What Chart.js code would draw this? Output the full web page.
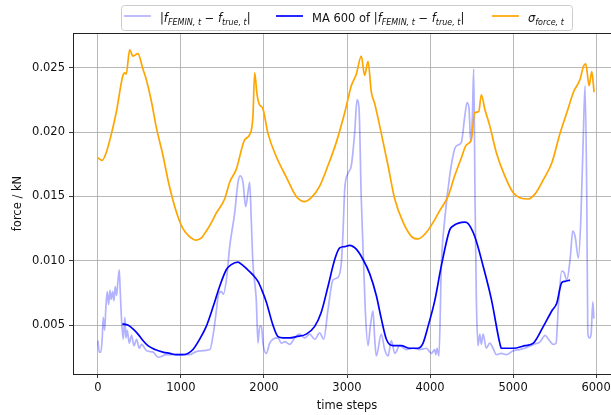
<!DOCTYPE html>
<html>
<head>
<meta charset="utf-8">
<script src="https://cdn.jsdelivr.net/npm/chart.js@4"></script>
<style>
    html, body { margin: 0; padding: 0; background: #fff; overflow: hidden; }
    #wrap { width: 611px; height: 415px; overflow: hidden; }
    canvas { display: block; }
</style>
</head>
<body>
<div id="wrap"><canvas id="chart" width="640" height="415"></canvas></div>
<script>
// |f_FEMIN - f_true| (raw)
const rawT = [0, 16, 36, 52, 64, 81, 96, 112, 129, 145, 160, 177, 193, 208, 225, 241, 257, 269, 286, 305,
    325, 337, 353, 377, 406, 434, 466, 498, 527, 587, 666, 726, 828, 988, 1108, 1169, 1229, 1349, 1389, 1430,
    1449, 1486, 1510, 1551, 1587, 1647, 1687, 1714, 1747, 1780, 1807, 1828, 1847, 1867, 1907, 1928, 1948, 1970, 1988, 2028,
    2069, 2108, 2169, 2208, 2253, 2310, 2370, 2430, 2490, 2551, 2611, 2671, 2719, 2771, 2831, 2892, 2931, 2952, 2972, 3012,
    3052, 3093, 3120, 3145, 3172, 3201, 3220, 3253, 3281, 3313, 3334, 3353, 3413, 3454, 3494, 3534, 3575, 3635, 3714, 3795,
    3876, 3955, 4016, 4057, 4069, 4084, 4108, 4136, 4177, 4237, 4297, 4337, 4377, 4418, 4446, 4470, 4490, 4510, 4526, 4542,
    4558, 4578, 4599, 4618, 4639, 4678, 4719, 4759, 4799, 4859, 4919, 5000, 5081, 5141, 5245, 5325, 5386, 5426, 5486, 5518,
    5546, 5586, 5614, 5647, 5687, 5719, 5747, 5787, 5816, 5847, 5867, 5888, 5900, 5920, 5940, 5961, 5973];
const rawF = [0.0038, 0.0029, 0.0029, 0.0040, 0.0056, 0.0046, 0.0064, 0.0076, 0.0066, 0.0077, 0.0070, 0.0076, 0.0069, 0.0080, 0.0073, 0.0084, 0.0093, 0.0076, 0.0053, 0.0039,
    0.0056, 0.0040, 0.0046, 0.0036, 0.0042, 0.0034, 0.0039, 0.0032, 0.0035, 0.0030, 0.0029, 0.0025, 0.0027, 0.0027, 0.0027, 0.0029, 0.0030, 0.0031, 0.0043, 0.0063,
    0.0073, 0.0076, 0.0074, 0.0087, 0.0111, 0.0137, 0.0161, 0.0166, 0.0161, 0.0142, 0.0153, 0.0161, 0.0132, 0.0098, 0.0070, 0.0036, 0.0049, 0.0049, 0.0036, 0.0028,
    0.0036, 0.0039, 0.0040, 0.0036, 0.0037, 0.0035, 0.0040, 0.0043, 0.0040, 0.0043, 0.0039, 0.0044, 0.0039, 0.0062, 0.0085, 0.0087, 0.0098, 0.0122, 0.0155, 0.0168,
    0.0174, 0.0200, 0.0225, 0.0218, 0.0148, 0.0096, 0.0062, 0.0034, 0.0049, 0.0061, 0.0039, 0.0026, 0.0043, 0.0031, 0.0026, 0.0038, 0.0028, 0.0034, 0.0031, 0.0032,
    0.0031, 0.0032, 0.0028, 0.0031, 0.0027, 0.0032, 0.0026, 0.0096, 0.0132, 0.0166, 0.0187, 0.0190, 0.0192, 0.0212, 0.0223, 0.0218, 0.0192, 0.0212, 0.0249, 0.0148,
    0.0070, 0.0034, 0.0043, 0.0035, 0.0043, 0.0032, 0.0036, 0.0032, 0.0027, 0.0028, 0.0027, 0.0030, 0.0031, 0.0032, 0.0035, 0.0037, 0.0042, 0.0039, 0.0035, 0.0036,
    0.0065, 0.0092, 0.0091, 0.0085, 0.0101, 0.0123, 0.0119, 0.0102, 0.0132, 0.0199, 0.0236, 0.0148, 0.0044, 0.0040, 0.0043, 0.0068, 0.0055];

// moving average over 600 steps
const maT = [295, 361, 422, 482, 542, 602, 687, 783, 867, 940, 1012, 1084, 1145, 1225, 1305, 1386, 1466, 1546, 1606, 1687,
    1735, 1787, 1867, 1928, 1976, 2028, 2108, 2169, 2229, 2310, 2389, 2510, 2611, 2690, 2771, 2852, 2912, 2972, 3032, 3112,
    3193, 3273, 3353, 3413, 3474, 3554, 3654, 3755, 3855, 3916, 3976, 4057, 4136, 4237, 4277, 4418, 4458, 4538, 4639, 4739,
    4840, 4859, 5000, 5141, 5245, 5365, 5466, 5526, 5586, 5626, 5687];
const maF = [0.0051, 0.0050, 0.0047, 0.0043, 0.0038, 0.0034, 0.0031, 0.0029, 0.0028, 0.0027, 0.0027, 0.0028, 0.0031, 0.0039, 0.0049, 0.0064, 0.0080, 0.0093, 0.0097, 0.0099,
    0.0097, 0.0094, 0.0089, 0.0084, 0.0077, 0.0068, 0.0050, 0.0041, 0.0040, 0.0040, 0.0041, 0.0043, 0.0049, 0.0060, 0.0080, 0.0101, 0.0110, 0.0111, 0.0112, 0.0109,
    0.0101, 0.0090, 0.0073, 0.0055, 0.0039, 0.0034, 0.0034, 0.0032, 0.0032, 0.0036, 0.0049, 0.0069, 0.0096, 0.0124, 0.0127, 0.0130, 0.0129, 0.0119, 0.0096, 0.0070,
    0.0036, 0.0032, 0.0032, 0.0034, 0.0036, 0.0049, 0.0061, 0.0067, 0.0083, 0.0084, 0.0085];

// sigma_force
const sigT = [0, 52, 100, 160, 220, 301, 322, 341, 382, 422, 482, 542, 582, 650, 702, 783, 850, 904, 960, 1024,
    1100, 1184, 1250, 1305, 1370, 1425, 1526, 1587, 1666, 1767, 1828, 1867, 1888, 1915, 1940, 1988, 2048, 2148, 2269, 2389,
    2490, 2570, 2671, 2771, 2871, 2972, 3052, 3112, 3172, 3213, 3253, 3293, 3334, 3413, 3494, 3575, 3675, 3775, 3855, 3955,
    4057, 4117, 4217, 4297, 4377, 4437, 4497, 4538, 4587, 4618, 4659, 4719, 4799, 4900, 5000, 5081, 5184, 5265, 5365, 5466,
    5566, 5647, 5727, 5807, 5847, 5876, 5916, 5948, 5976];
const sigF = [0.0180, 0.0178, 0.0184, 0.0198, 0.0215, 0.0244, 0.0246, 0.0245, 0.0264, 0.0259, 0.0261, 0.0249, 0.0241, 0.0222, 0.0204, 0.0182, 0.0161, 0.0147, 0.0135, 0.0125,
    0.0119, 0.0116, 0.0118, 0.0123, 0.0130, 0.0137, 0.0148, 0.0161, 0.0171, 0.0194, 0.0198, 0.0212, 0.0246, 0.0230, 0.0222, 0.0218, 0.0199, 0.0181, 0.0165, 0.0150,
    0.0146, 0.0149, 0.0158, 0.0174, 0.0192, 0.0215, 0.0236, 0.0245, 0.0259, 0.0244, 0.0255, 0.0231, 0.0222, 0.0199, 0.0174, 0.0148, 0.0130, 0.0119, 0.0117, 0.0122,
    0.0132, 0.0139, 0.0150, 0.0166, 0.0180, 0.0190, 0.0194, 0.0215, 0.0216, 0.0229, 0.0218, 0.0205, 0.0184, 0.0166, 0.0153, 0.0149, 0.0148, 0.0152, 0.0163, 0.0176,
    0.0199, 0.0215, 0.0231, 0.0241, 0.0251, 0.0253, 0.0236, 0.0247, 0.0231];

const xTicks = [0, 1000, 2000, 3000, 4000, 5000, 6000];
const yTicks = [0.005, 0.010, 0.015, 0.020, 0.025];

const toPoints = (ts, vs) => ts.map((t, i) => ({ x: t, y: vs[i] }));

// legend entries, drawn by hand because of the sub/italic math text
const diffRuns = [['|', 'n'], ['f', 'i'], ['FEMIN, t', 's'], [' \u2212 ', 'n'], ['f', 'i'], ['true, t', 's'], ['|', 'n']];
const legendItems = [
    { color: 'rgba(0,0,255,0.3)', x: 124, runs: diffRuns },
    { color: '#0000ff', x: 276, runs: [['MA 600 of ', 'n']].concat(diffRuns) },
    { color: '#ffa500', x: 492, runs: [['\u03c3', 'i'], ['force, t', 's']] }
];

const FONT = '"DejaVu Sans"';
Chart.defaults.font.family = FONT;
Chart.defaults.font.size = 11.5;
Chart.defaults.color = '#111';

function runFont(style) {
    if (style === 'i') return 'italic 11.5px ' + FONT;
    if (style === 's') return 'italic 8px ' + FONT;
    return '11.5px ' + FONT;
}

const mathLegend = {
    id: 'mathLegend',
    afterDraw(chart) {
        const ctx = chart.ctx;
        const area = chart.chartArea;
        ctx.save();
        // top / right spines
        ctx.strokeStyle = '#222';
        ctx.lineWidth = 1;
        ctx.beginPath();
        ctx.moveTo(area.left, area.top + 0.5);
        ctx.lineTo(area.right, area.top + 0.5);
        ctx.lineTo(area.right, area.bottom);
        ctx.stroke();

        // legend frame
        ctx.beginPath();
        ctx.roundRect(121.5, 5.5, 451, 25, 3);
        ctx.fillStyle = 'rgba(255,255,255,0.8)';
        ctx.fill();
        ctx.strokeStyle = '#cccccc';
        ctx.stroke();

        legendItems.forEach(item => {
            ctx.strokeStyle = item.color;
            ctx.lineWidth = 1.7;
            ctx.beginPath();
            ctx.moveTo(item.x, 16);
            ctx.lineTo(item.x + 27, 16);
            ctx.stroke();

            let x = item.x + 36;
            ctx.fillStyle = '#111';
            ctx.textBaseline = 'alphabetic';
            item.runs.forEach(([txt, style]) => {
                ctx.font = runFont(style);
                ctx.fillText(txt, x, style === 's' ? 25 : 22);
                x += ctx.measureText(txt).width;
            });
        });
        ctx.restore();
    }
};

new Chart(document.getElementById('chart'), {
    type: 'line',
    data: {
        datasets: [
            {
                label: '|f_FEMIN,t - f_true,t|',
                data: toPoints(rawT, rawF),
                borderColor: 'rgba(0,0,255,0.3)',
                borderWidth: 1.7,
                order: 3
            },
            {
                label: 'MA 600 of |f_FEMIN,t - f_true,t|',
                data: toPoints(maT, maF),
                borderColor: '#0000ff',
                borderWidth: 1.7,
                order: 2
            },
            {
                label: 'sigma_force,t',
                data: toPoints(sigT, sigF),
                borderColor: '#ffa500',
                borderWidth: 1.7,
                order: 1
            }
        ]
    },
    options: {
        responsive: false,
        animation: false,
        devicePixelRatio: 1,
        layout: { padding: { left: 0, top: 33, right: 19, bottom: 0 } },
        elements: {
            point: { radius: 0 },
            line: { cubicInterpolationMode: 'monotone', fill: false }
        },
        scales: {
            x: {
                type: 'linear',
                min: -300,
                max: 6300,
                afterFit: s => { s.height = 41; },
                afterBuildTicks: s => { s.ticks = xTicks.map(v => ({ value: v })); },
                grid: { color: '#b0b0b0', lineWidth: 0.9, tickLength: 4, tickColor: '#222' },
                border: { color: '#222', width: 1 },
                ticks: { padding: 3, maxRotation: 0, callback: v => String(v) },
                title: { display: true, text: 'time steps', padding: { top: 0, bottom: 2 } }
            },
            y: {
                type: 'linear',
                min: 0.0012,
                max: 0.0277,
                afterFit: s => { s.width = 73; },
                afterBuildTicks: s => { s.ticks = yTicks.map(v => ({ value: v })); },
                grid: { color: '#b0b0b0', lineWidth: 0.9, tickLength: 4, tickColor: '#222' },
                border: { color: '#222', width: 1 },
                ticks: { padding: 4, callback: v => v.toFixed(3) },
                title: { display: true, text: 'force / kN', padding: { top: 11, bottom: 0 } }
            }
        },
        plugins: {
            legend: { display: false },
            tooltip: { enabled: false }
        }
    },
    plugins: [mathLegend]
});
</script>
</body>
</html>
